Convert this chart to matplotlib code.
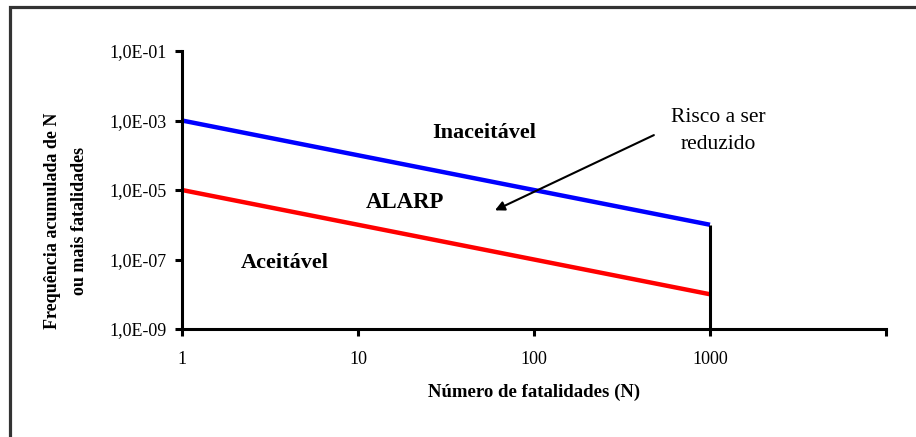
import matplotlib.pyplot as plt
from matplotlib.patches import Rectangle
import numpy as np

# F-N curve data
n_fatal = [1, 1000]
upper_limit = [1e-3, 1e-6]   # blue - intolerable boundary
lower_limit = [1e-5, 1e-8]   # red - acceptable boundary
vline_n = 1000
vline_y = [1e-9, 1e-6]

x_ticks = [1, 10, 100, 1000, 10000]
x_labels = ['1', '10', '100', '1000', '']
y_ticks = [1e-9, 1e-7, 1e-5, 1e-3, 1e-1]
y_labels = ['1,0E-09', '1,0E-07', '1,0E-05', '1,0E-03', '1,0E-01']

plt.rcParams['font.family'] = ['Liberation Serif', 'DejaVu Serif']

fig = plt.figure(figsize=(9.16, 4.37), dpi=100)
ax = fig.add_axes([0.1987, 0.2471, 0.9672 - 0.1987, 0.8833 - 0.2471])

ax.plot(n_fatal, upper_limit, color='#0000ff', lw=3.2, solid_capstyle='butt')
ax.plot(n_fatal, lower_limit, color='#ff0000', lw=3.2, solid_capstyle='butt')
ax.plot([vline_n, vline_n], vline_y, color='black', lw=2.2, solid_capstyle='butt')

ax.set_xscale('log')
ax.set_yscale('log')
ax.set_xlim(1, 10000)
ax.set_ylim(1e-9, 1e-1)
ax.set_xticks(x_ticks)
ax.set_xticklabels(x_labels)
ax.set_yticks(y_ticks)
ax.set_yticklabels(y_labels)
ax.minorticks_off()
ax.tick_params(axis='both', labelsize=13, width=2.2, length=5, direction='out',
               color='black')
ax.tick_params(axis='y', pad=6)
ax.tick_params(axis='x', pad=11)

for s in ['top', 'right']:
    ax.spines[s].set_visible(False)
for s in ['left', 'bottom']:
    ax.spines[s].set_linewidth(2.2)
    ax.spines[s].set_color('black')

ax.set_xlabel('Número de fatalidades (N)', fontsize=13.5, fontweight='bold', labelpad=11)
fig.text(66 / 916, 1 - 221 / 437, 'Frequência acumulada de N\nou mais fatalidades',
         fontsize=13, fontweight='bold', rotation=90, ha='center', va='center',
         multialignment='center', linespacing=1.75)

# region labels
ax.text(52, 4.4e-4, 'Inaceitável', fontsize=16, fontweight='bold', ha='center', va='center')
ax.text(18.5, 4.5e-6, 'ALARP', fontsize=16.5, fontweight='bold', ha='center', va='center')
ax.text(3.85, 7.9e-8, 'Aceitável', fontsize=16, fontweight='bold', ha='center', va='center')
ax.text(1120, 5e-4, 'Risco a ser\nreduzido', fontsize=15.5, ha='center', va='center',
        linespacing=1.6)
ax.annotate('', xy=(60, 2.6e-6), xytext=(480, 3.8e-4),
            arrowprops=dict(arrowstyle='-|>', color='black', lw=1.5,
                            mutation_scale=14, shrinkA=0, shrinkB=0))

# outer frame (cut off at right and bottom)
fig.patches.append(Rectangle((0.0104, -0.1), 1.1, 0.983 + 0.1,
                             transform=fig.transFigure, fill=False,
                             edgecolor='#333333', lw=2.3, clip_on=False))

fig.savefig('out.png', dpi=100)
